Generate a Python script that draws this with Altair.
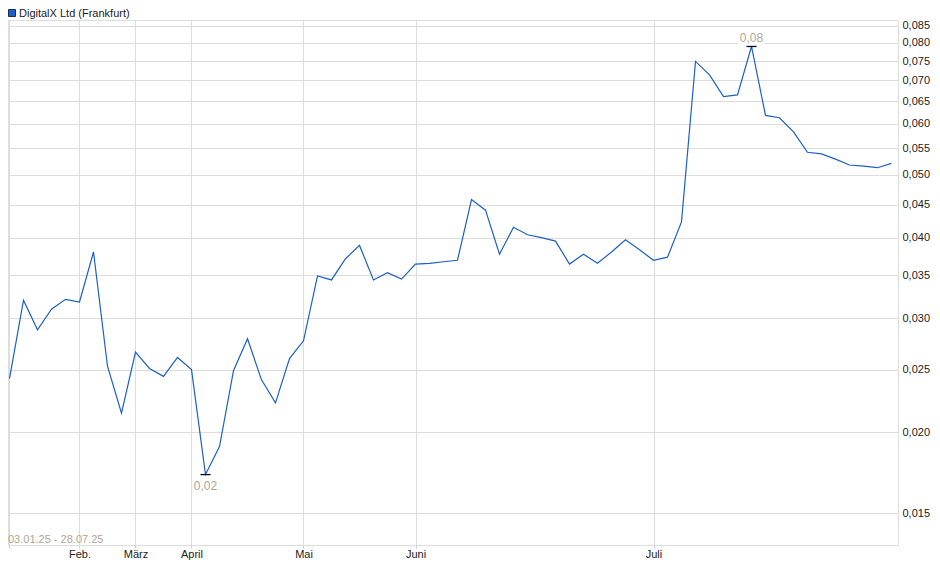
import altair as alt
import pandas as pd

# Price series (one point per sample, equally spaced on the x axis)
prices = [
    0.0242, 0.0320, 0.0288, 0.0310, 0.0321, 0.0318, 0.0380, 0.0253, 0.0214, 0.0266,
    0.0251, 0.0244, 0.0261, 0.0250, 0.0172, 0.0190, 0.0249, 0.0279, 0.0241, 0.0222,
    0.0260, 0.0277, 0.0349, 0.0344, 0.0371, 0.0389, 0.0344, 0.0353, 0.0345, 0.0364,
    0.0365, 0.0367, 0.0369, 0.0458, 0.0441, 0.0377, 0.0415, 0.0404, 0.0400, 0.0395,
    0.0364, 0.0377, 0.0365, 0.0380, 0.0397, 0.0383, 0.0369, 0.0373, 0.0423, 0.0749,
    0.0714, 0.0661, 0.0665, 0.0790, 0.0618, 0.0613, 0.0583, 0.0542, 0.0539, 0.0529,
    0.0518, 0.0516, 0.0513, 0.0521,
]
month_ticks = [0, 5, 9, 13, 21, 29, 46]
month_labels = ["", "Feb.", "März", "April", "Mai", "Juni", "Juli"]
y_ticks = [0.015, 0.020, 0.025, 0.030, 0.035, 0.040, 0.045, 0.050,
           0.055, 0.060, 0.065, 0.070, 0.075, 0.080, 0.085]
title_text = "DigitalX Ltd (Frankfurt)"
range_text = "03.01.25 - 28.07.25"

LINE = "#1b5fc7"
GRID = "#dddddd"
NOTE = "#b0a696"
FONT = "Liberation Sans"

df = pd.DataFrame({"i": list(range(len(prices))), "p": prices})
pmin, pmax = min(prices), max(prices)
imin, imax = prices.index(pmin), prices.index(pmax)
fmt = lambda v: f"{v:.2f}".replace(".", ",")
df_min = pd.DataFrame({"i": [imin], "p": [pmin], "lab": [fmt(pmin)]})
df_max = pd.DataFrame({"i": [imax], "p": [pmax], "lab": [fmt(pmax)]})
one = pd.DataFrame({"t": [title_text], "r": [range_text]})

expr = "''"
for v, lab in reversed(list(zip(month_ticks, month_labels))):
    expr = f"datum.value == {v} ? '{lab}' : ({expr})"

xscale = alt.Scale(domain=[-0.107, 63.464], nice=False, zero=False)
yscale = alt.Scale(type="log", domain=[0.013385, 0.08681], nice=False, zero=False)

x_enc = alt.X("i:Q", scale=xscale, axis=alt.Axis(
    values=month_ticks, labelExpr=expr, grid=True, gridColor=GRID, gridWidth=1,
    ticks=True, tickSize=3, tickColor="#cccccc", domain=False, title=None,
    labelFont=FONT, labelFontSize=11, labelColor="#222222", labelPadding=0,
    labelFlush=False, labelOverlap=False))
y_enc = alt.Y("p:Q", scale=yscale, axis=alt.Axis(
    orient="right", values=y_ticks,
    labelExpr="replace(format(datum.value, '.3f'), '.', ',')",
    grid=True, gridColor=GRID, gridWidth=1, ticks=False, domain=False, title=None,
    labelFont=FONT, labelFontSize=11, labelColor="#222222", labelPadding=4,
    labelOverlap=False))

line = alt.Chart(df).mark_line(color=LINE, strokeWidth=1.2).encode(x=x_enc, y=y_enc)

def marker(d, dy):
    rule = alt.Chart(d).mark_rule(color="black", strokeWidth=1.3, xOffset=-5, x2Offset=5).encode(
        x="i:Q", x2="i:Q", y="p:Q")
    box = alt.Chart(d).mark_rect(color="white", xOffset=-13, x2Offset=13,
                                 yOffset=dy - 7, y2Offset=dy + 7).encode(
        x="i:Q", x2="i:Q", y="p:Q", y2="p:Q")
    txt = alt.Chart(d).mark_text(color=NOTE, font=FONT, fontSize=12, dy=dy,
                                 baseline="middle", align="center").encode(
        x="i:Q", y="p:Q", text="lab:N")
    return [box, rule, txt]

swatch = alt.Chart(one).mark_rect(color="#1b5fc7", stroke="#1a2a60", strokeWidth=1).encode(
    x=alt.value(0.5), x2=alt.value(7.5), y=alt.value(-10.5), y2=alt.value(-3.5))
title = alt.Chart(one).mark_text(font=FONT, fontSize=11, color="#222222",
                                 align="left", baseline="alphabetic").encode(
    x=alt.value(11), y=alt.value(-3), text="t:N")
rng = alt.Chart(one).mark_text(font=FONT, fontSize=11, color=NOTE,
                               align="left", baseline="alphabetic").encode(
    x=alt.value(0), y=alt.value(523), text="r:N")

chart = alt.layer(
    line, *marker(df_min, 11), *marker(df_max, -8), swatch, title, rng
).properties(
    width=890, height=525,
    autosize=alt.AutoSizeParams(type="none"),
    padding={"left": 0, "top": 12, "right": 32, "bottom": 20},
).configure_view(stroke="#cccccc", strokeWidth=1).configure(background="white")

chart.save("out.html", embed_options={"renderer": "svg", "actions": False})
